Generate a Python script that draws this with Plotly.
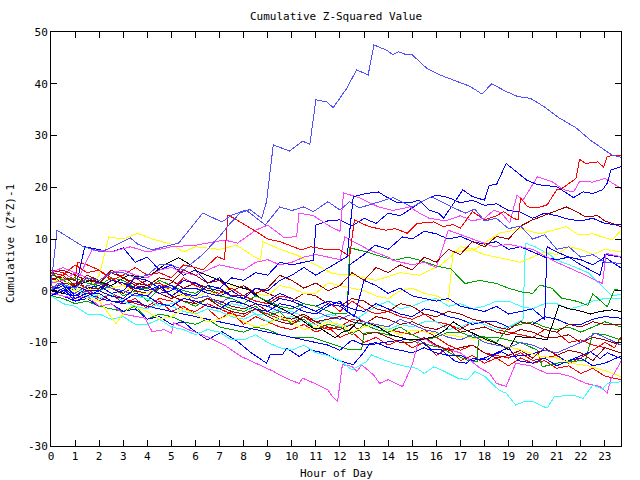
import plotly.graph_objects as go

# ---- Data: each series is a list of (hour, cumulative value) pairs ----
a_lightblue = [(0,0),(0.3,1.5),(1,0.5),(1.5,2.5),(2,2),(2.5,3.5),(3,3.5),(3.5,2.5),(4,3),(4.5,5),(5,5),(5.5,4),(6.3,7),(7,10.5),(7.4,12.8),(7.85,15),(8.26,15.7),(8.75,14.0),(8.95,17.2),(9.23,28.2),(9.9,27.0),(10.45,28.9),(10.75,28.3),(11.0,36.9),(11.45,36.5),(11.72,35.4),(12.28,39.1),(12.69,42.7),(13.17,41.7),(13.41,47.5),(13.93,46.5),(14.2,45.6),(14.42,46.2),(14.76,45.6),(15.0,45.6),(15.6,43.0),(16.15,41.7),(16.8,40.5),(17.4,39.5),(17.9,38),(18.3,40),(18.9,38.5),(19.4,37.5),(19.9,37.2),(20.5,35.5),(21.1,33.4),(21.8,31.5),(22.4,29.1),(23.0,27.2),(23.3,26.2),(23.67,25.8)]
a2_lightblue = [(0,1),(0.25,11.7),(1.35,8.5),(2.1,7.5),(3.3,10.2),(3.6,9),(4.2,7.9),(5.3,9.2),(6.3,15),(7.1,13.3),(7.5,14.6),(8.1,15.6),(8.9,12.7),(9.5,16.2),(10.0,15.5),(10.5,16.2),(10.9,15.3),(11.5,17.2),(12.0,15.6),(12.4,17.2),(12.8,16),(13.5,17),(14.2,18),(15.0,16.2),(15.8,18.2),(16.5,16.5),(17.2,15),(17.6,15.8),(18,13.5),(18.5,14),(19,12),(19.5,12.5),(20,10),(20.5,10.8),(21,8),(21.5,8.5),(22,6.5),(22.5,7),(23,5.5),(23.67,5.3)]
b_blue = [(0,0),(0.5,1.5),(1,-1),(1.5,0.5),(2,1),(2.5,-0.5),(3,0),(3.5,2.5),(4,2),(4.5,0.5),(5,1),(5.5,-0.5),(6,-1),(6.5,1),(7,0.5),(7.5,-1),(8,-1.5),(8.5,0.5),(9,0),(9.5,2),(10,3),(10.5,4.5),(11,3),(11.7,5),(12.3,6.6),(12.55,18.2),(13.1,18.8),(13.6,19.1),(13.9,18.2),(14.4,17),(14.9,17),(15.3,17.5),(15.7,15.6),(16.1,15),(16.3,14),(17.1,19.5),(17.5,18.2),(18.0,17.5),(18.2,20.4),(18.5,20.5),(18.9,24.6),(19.75,21.4),(20.2,20.5),(21,20.1),(21.7,18),(22.1,19.1),(22.5,18.8),(22.9,19.5),(23.1,20.8),(23.25,23.3),(23.67,24)]
c_red = [(0,3.5),(0.5,3),(1,5),(1.5,3.5),(2,4),(2.5,2),(3,3),(3.5,4.5),(4,3),(4.5,3.5),(5,2.5),(5.5,5),(6,4.5),(6.3,4),(6.9,6.6),(7.2,6),(7.35,14.6),(7.6,14),(8.5,11.5),(9.0,10),(9.5,9.5),(10.4,7.9),(10.8,8.5),(11.5,7.9),(12.0,7.9),(12.4,6.6),(12.6,13.7),(13.2,12.4),(13.9,11.7),(14.3,12),(14.8,11.1),(15.2,13),(15.9,13.3),(16.3,12.4),(16.7,12.8),(17.0,12.1),(17.5,15.3),(18.0,13.7),(18.5,14.5),(18.8,15.3),(19.2,14),(19.4,13.7),(19.5,17.9),(19.8,16.2),(20.2,16),(20.6,16.6),(21.0,19.5),(21.2,19.7),(21.8,21.7),(21.95,25.4),(22.2,24.6),(22.7,24.9),(22.95,23.9),(23.1,26),(23.67,26.2)]
d_magenta = [(0,3.5),(0.5,4.5),(1.2,3),(1.7,7.9),(2.5,7.5),(3.3,8.5),(4,7.5),(5,8.5),(6,8.8),(7.2,9.8),(7.75,9.2),(8.5,11.7),(9.0,12.7),(9.7,10.2),(10.2,10.5),(10.3,15),(10.9,14.5),(11.6,12.4),(12.0,11.5),(12.15,18.9),(12.8,18),(13.6,16.2),(14.2,15.5),(14.9,16.2),(15.3,15),(15.7,14),(16.4,13.5),(17.0,14.5),(17.5,13.5),(18.0,14),(18.4,15.6),(18.7,15),(19.05,13.1),(19.35,18.5),(19.6,17.5),(20.2,22),(20.8,21.1),(21.3,19.5),(21.7,19.1),(21.95,21.1),(22.5,21),(23.0,21.7),(23.67,19.8)]
e_blue = [(0,-1),(0.5,0.5),(1,-2),(1.5,-1),(2,0),(2.5,-1),(3,-1.5),(3.5,0.5),(4,1),(4.5,-0.5),(5,0),(5.5,2),(6,1.5),(6.5,0),(7,0.5),(7.5,2.5),(8,2),(8.5,3.5),(9,3),(9.5,5.5),(10,5),(10.9,5.9),(11.0,12.7),(11.5,13.5),(12.0,13.7),(12.5,12.5),(13,14),(13.5,13),(14,15),(14.5,14.5),(15,16),(15.5,17.5),(16,18.5),(16.5,18),(17,17),(17.5,17.5),(18,16.5),(18.5,16.8),(19,15.5),(19.5,15.2),(20,14),(20.5,15),(21,14.5),(21.5,13.8),(22,13.5),(22.5,14),(23,13),(23.67,12.7)]
f_darkred = [(0,2),(0.5,3),(1,1),(1.5,2.5),(2,1.5),(2.5,4),(3,2.5),(3.5,1),(4,2),(4.5,0.5),(5,1.5),(5.5,4),(6,3),(6.5,1.5),(7,2),(7.5,0),(8,1),(8.5,-0.5),(9,0.5),(9.5,3),(10,2),(10.5,0.5),(11,1.5),(11.5,0),(12,1),(12.5,3.5),(13,2),(13.5,4.5),(14,3.5),(14.5,5),(15,4),(15.5,6.5),(16,5.5),(16.5,8),(17,7),(17.5,9.5),(18,8.5),(18.5,10.5),(19,10),(19.5,12.5),(20,13.7),(20.7,15),(21.4,16.2),(21.8,15.3),(22.2,14.3),(22.7,14.5),(23,13.5),(23.67,12.4)]
g_yellow = [(0,0.5),(0.5,-0.5),(1,1),(1.5,0),(2,3),(2.4,10.4),(3,10),(3.6,11.1),(4.2,10),(5,9),(5.5,7.5),(6,8.5),(7,8),(7.7,8.8),(8.3,7),(8.7,5.9),(8.8,9.5),(9.5,8),(10.2,6.9),(11.2,4.5),(11.7,3.3),(12.5,3),(13.5,2),(14.5,3.5),(15.3,3),(16.2,5),(16.6,6.6),(17.0,8.5),(17.6,8),(18.6,11.1),(19.5,12),(20.3,11),(21.4,12.4),(21.9,10.8),(22.5,11),(23.3,9.8),(23.67,11.7)]
h_magenta = [(0,-0.5),(0.5,-1),(1,-1.5),(1.5,-1),(2,-3),(2.5,-2.5),(3,-4.5),(3.9,-5.3),(4.2,-7.9),(4.7,-7.5),(5,-8.2),(5.1,-6.2),(5.7,-7.5),(6.5,-8.9),(7.2,-10.5),(7.9,-12.7),(8.5,-14),(9.2,-15.5),(9.8,-17),(10.3,-17.9),(10.45,-16.9),(10.9,-17.8),(11.5,-19.2),(11.7,-20.5),(11.9,-21.4),(12.1,-14.3),(12.5,-14.6),(12.7,-15.6),(12.9,-14.3),(13.4,-16.3),(13.65,-17.9),(14.0,-17.2),(14.6,-18.5),(15.0,-14.3),(15.3,-9.1),(15.6,-9.5),(15.9,-10.5),(16.6,-11.4),(17.0,-12),(17.4,-13.4),(17.8,-14.9),(18.2,-15.9),(18.5,-17.9),(18.9,-18.5),(19.3,-14),(19.9,-14.5),(20.6,-16),(21.1,-16),(21.6,-16.6),(22.2,-17.9),(22.8,-18.5),(23.1,-19.8),(23.25,-17),(23.67,-13.7)]
i_cyan = [(0,-1),(0.5,-2.5),(1,-3),(1.5,-4.5),(2,-4.5),(2.5,-5.5),(3,-5),(3.5,-6.5),(4,-6.5),(4.5,-5.5),(5,-7),(5.5,-7.5),(6,-8.5),(6.5,-7.5),(7,-8),(7.5,-9.5),(8,-9.5),(8.5,-8.5),(9,-10),(9.5,-11),(10,-11.5),(10.5,-10.5),(11,-12),(11.5,-12.5),(12,-13.5),(12.5,-15.3),(13.1,-13.7),(13.3,-12.4),(13.9,-13.5),(14.2,-14),(14.7,-14.6),(15.2,-15),(15.5,-16),(15.9,-14.7),(16.3,-15.5),(16.9,-16.9),(17.3,-17.2),(17.6,-15.6),(18.0,-16.5),(18.6,-19.2),(18.9,-19.8),(19.3,-22.1),(19.6,-21.5),(20.0,-21.4),(20.6,-22.7),(20.9,-20.5),(21.3,-20.3),(21.7,-20.2),(22.1,-20.8),(22.5,-18.2),(22.9,-19),(23.1,-17.9),(23.67,-17.6)]
j_blue = [(0,-0.5),(0.5,-1),(1,-2),(1.5,-1.5),(2,-3),(2.5,-2.5),(3,-4),(3.5,-3.5),(4,-5.5),(4.5,-5),(5,-6.5),(5.5,-6),(5.9,-7.6),(6.5,-9.5),(7.1,-7.9),(7.75,-9.8),(8.26,-11.8),(8.95,-14),(9.1,-12.4),(9.6,-12.4),(9.8,-11.1),(10.3,-12.7),(10.75,-11.4),(11.3,-12),(11.9,-13.4),(12.55,-14.3),(12.95,-12.1),(13.2,-10.5),(13.8,-10),(14.6,-9.5),(15.3,-9.5),(15.8,-11.4),(16.2,-11.4),(16.8,-13.7),(17.25,-14),(17.5,-13.1),(18.1,-13.4),(18.4,-12.4),(18.7,-11.8),(19.1,-12.7),(19.7,-12.5),(20.6,-11.4),(21.1,-12.7),(21.4,-13.7),(22.4,-11.8),(22.8,-13.1),(23.1,-12),(23.67,-13.1)]
k_cyan = [(0,1),(0.5,0.5),(1,0),(1.5,-1),(2,-1.5),(2.5,-0.5),(3,-2),(3.5,-3),(4,-3.5),(4.5,-2.5),(5,-3),(5.5,-4),(6,-4.5),(6.5,-3.5),(7,-4),(7.5,-5),(8,-5.5),(8.5,-4.5),(9,-6),(9.5,-5.5),(10,-5),(10.5,-6),(11,-6.5),(11.5,-5.5),(12,-7),(12.5,-6.5),(13,-6),(13.5,-7),(14,-7.5),(14.5,-6.5),(15,-7),(15.5,-6),(16,-6),(16.5,-7.5),(17,-7),(17.5,-6),(18,-6.5),(18.5,-7.5),(19,-7),(19.6,-5.6),(19.7,9.2),(20.1,8.5),(20.7,7),(21.0,5.9),(21.7,4.7),(22.3,3.5),(22.9,0.9),(23.3,-1),(23.67,-0.7)]
l1_green = [(0,3.5),(0.5,2),(1,2.5),(1.5,1.5),(2,1),(2.5,2.5),(3,2),(3.5,0.5),(4,0.5),(4.5,2),(5,1),(5.5,0),(6,-0.5),(6.5,1),(7,-1),(7.5,-1.5),(8,-2.5),(8.5,-1),(9,-2),(9.5,-3),(10,-3.5),(10.5,-2.5),(11,-3),(11.8,-4.5),(12.3,-4.3),(12.4,8.3),(13.1,7.5),(13.5,6.9),(14.3,5.9),(14.8,6.5),(15.3,5.9),(16.1,4.7),(16.6,4.2),(17.2,1.4),(17.8,2),(18.5,1.4),(19.0,0.5),(19.5,-0.2),(20.0,-0.5),(20.3,1.1),(20.8,0.5),(21.2,-1.4),(21.8,-2),(22.3,-2.8),(22.5,-0.6),(23.1,-3.1),(23.4,0.2),(23.67,0.1)]
l2_black = [(0,0),(0.5,-0.5),(1,1),(1.7,2.1),(2.5,1),(3.2,3),(4,2.5),(4.7,5),(5.3,6.4),(5.8,5),(6.1,3.7),(7,2),(7.9,0.6),(8.2,0.2),(9.0,-2.3),(9.6,-3.5),(10.4,-5.6),(10.9,-7.3),(11.2,-7.3),(11.8,-9.1),(12.1,-8),(12.4,-7.6),(12.8,-5.6),(13.3,-6.5),(13.6,-7),(14.1,-8.5),(14.9,-9.5),(15.3,-9.5),(15.9,-8.9),(16.4,-7.5),(16.7,-6),(17.2,-7.5),(18.1,-9.5),(18.7,-10.5),(19.0,-11.4),(19.3,-8.9),(20.0,-9),(20.6,-9.5),(21.1,-2.8),(21.5,-3.5),(21.9,-3.8),(22.4,-4.5),(22.8,-4),(23.3,-3.7),(23.67,-4)]
l3_red = [(0,0.5),(0.5,1.5),(1,-1),(1.5,0),(2,-2),(2.5,-0.5),(3,-1.5),(3.5,-2.5),(4,-3),(4.5,-1.5),(5,-2),(5.5,-3.5),(6,-4),(6.5,-2.5),(7,-3.5),(7.5,-4.5),(8,-5),(8.5,-3.5),(9,-4.5),(9.5,-5.5),(10,-6),(10.5,-5),(11,-6.5),(11.5,-7.5),(12,-7),(12.5,-5.5),(13,-6),(13.5,-7),(14,-7.5),(14.5,-8),(15,-8.5),(15.5,-7.5),(16,-9),(16.5,-10.5),(17,-11.5),(17.5,-10.5),(18,-12),(18.5,-12.5),(19,-13),(19.5,-12),(20,-13.5),(20.5,-13),(21,-12.5),(21.5,-14),(22,-13),(22.5,-11.5),(23,-10),(23.4,-11),(23.67,-8.9)]
l4_red = [(0,1),(0.5,0),(1,1.5),(1.5,0.5),(2,-1.5),(2.5,-0.5),(3,-2.5),(3.5,-1.5),(4,-3.5),(4.5,-2),(5,-4),(5.5,-3),(6,-4.5),(6.5,-3.5),(7,-5.5),(7.5,-4),(8,-6.5),(8.5,-5),(9,-6),(9.5,-7),(10,-7.5),(10.5,-6.5),(11,-8),(11.5,-7),(12,-9),(12.5,-8),(13,-10),(13.5,-9),(14,-10.5),(14.5,-9.5),(15,-11),(15.5,-10),(16,-12.5),(16.5,-11),(17,-13.5),(17.5,-12.5),(18,-14),(18.5,-13),(19,-14.5),(19.5,-13),(20,-14),(20.5,-13.5),(21,-15),(21.5,-14.5),(22,-16),(22.5,-15),(23,-16.5),(23.67,-17.2)]
l5_yellow = [(0,1),(0.5,0.5),(1,0),(1.5,-1.5),(2,-2),(2.7,-6.3),(3,-4.5),(3.3,-3),(4,-4),(4.5,-5.5),(5,-5),(5.5,-3.5),(6,-4.5),(6.5,-6),(7,-5.5),(7.5,-4.5),(8,-6),(8.5,-7),(9,-6.5),(9.5,-5),(10,-6),(10.5,-7.5),(11,-7),(11.5,-6),(12,-6.5),(12.5,-8),(13,-7),(13.5,-6.5),(14,-7.5),(14.5,-8.5),(15,-7.6),(15.7,-8),(16.4,-8.5),(17.2,-9),(18,-9.5),(18.7,-10.5),(19.5,-11.4),(20.3,-12.7),(21,-13),(21.6,-14),(22.3,-14.5),(23.1,-15.6),(23.67,-16.6)]
l6_cyan = [(0,2),(0.5,1),(1,0.5),(1.5,-0.5),(2,-1),(2.5,0.5),(3,0),(3.5,-1),(4,-1.5),(4.5,-3),(5,-2.5),(5.5,-1.5),(6,-2),(6.5,-3),(7,-3.5),(7.5,-2.5),(8,-3),(8.5,-4.5),(9,-4.5),(9.5,-3.5),(10,-4),(10.5,-5),(11,-5.5),(11.5,-4.5),(12,-5),(12.5,-6),(13,-4.5),(13.5,-3),(14,-2),(14.5,-3.5),(15,-3),(15.5,-2),(16,-1.5),(16.5,-3),(17,-2.5),(17.5,-3.5),(18,-3),(18.5,-2),(19,-2),(19.5,-3),(20,-3.5),(20.5,-2.5),(21,-2.5),(21.5,-3.5),(22,-3),(22.5,-2),(23,-1.5),(23.67,-1.4)]
l7_blue = [(0,2),(0.5,1),(1,0),(1.4,8.5),(2,8),(2.5,7.5),(3,8.3),(3.5,5.5),(4,6.5),(4.5,4),(5,5),(5.5,3),(6,4),(6.5,1.5),(7,2.5),(7.5,0),(8,1),(8.5,-1),(9,-2),(9.5,-0.5),(10,-1.5),(10.5,-2.5),(11,-3),(11.5,-2),(12,-2.5),(12.5,-3.5),(13,-4),(13.5,-2.5),(14,-3.5),(14.5,-4.5),(15,-5),(15.5,-3.5),(16,-4),(16.5,-5),(17,-5.5),(17.5,-6.5),(18,-6),(18.5,-6),(19,-7),(19.5,-6),(20,-6.5),(20.5,-5),(21,-5.5),(21.5,-6.5),(22,-6.5),(22.5,-5.5),(23,-5),(23.67,-5.3)]
l8_darkred = [(0,2.5),(0.5,1.5),(1,1),(1.5,3),(2,2),(2.5,0.5),(3,-0.5),(3.5,1),(4,0.5),(4.5,-0.5),(5,-1.5),(5.5,-0.5),(6,-2.5),(6.5,-1.5),(7,-2),(7.5,-3),(8,-3.5),(8.5,-2.5),(9,-4),(9.5,-5),(10,-5.5),(10.5,-4.5),(11,-6),(11.5,-5.5),(12,-5),(12.5,-6),(13,-6.5),(13.5,-5),(14,-5.5),(14.5,-6.5),(15,-6),(15.5,-7),(16,-7.5),(16.5,-6.5),(17,-8),(17.5,-7.5),(18,-7),(18.5,-8),(19,-8.5),(19.5,-7.5),(20,-8),(20.5,-9),(21,-9),(21.5,-8.5),(22,-10),(22.5,-9),(23,-9.5),(23.67,-10.5)]
l9_darkred = [(0,3),(0.5,2.5),(1,2),(1.5,0.5),(2,0.5),(2.5,2),(3,1.5),(3.5,0),(4,-0.5),(4.5,0.5),(5,-1),(5.5,-2),(6,-2.5),(6.5,-1.5),(7,-3),(7.5,-4),(8,-4.5),(8.5,-3.5),(9,-5),(9.5,-6),(10,-6.5),(10.5,-5),(11,-6),(11.5,-7),(12,-7.5),(12.5,-6.5),(13,-8.5),(13.5,-8),(14,-9),(14.5,-10),(15,-10),(15.5,-9),(16,-10.5),(16.5,-11.5),(17,-11),(17.5,-10.5),(18,-12),(18.5,-13),(19,-12.5),(19.5,-11.5),(20,-13),(20.5,-11),(21,-12.5),(21.5,-11.5),(22,-12),(22.5,-13.5),(23,-11),(23.67,-12)]
l10_blue = [(0,-1),(0.5,0),(1,1),(1.5,0),(2,0),(2.5,2),(3,1.5),(3.5,0.5),(4,0),(4.5,1),(5,-1),(5.5,0.5),(6,0.5),(6.5,-0.5),(7,-1),(7.5,0),(8,-1.5),(8.5,-2.5),(9,-3),(9.5,-1.5),(10,-2),(10.5,-3),(11,-4),(11.5,-2.5),(12,-3),(12.6,-5),(13,2),(13.5,1),(14,-0.5),(14.5,0.5),(15,-1),(15.5,-1.5),(16,-2),(16.5,-1.5),(17,-3),(17.5,-3.5),(18,-4),(18.5,-3),(19,-4.5),(19.5,-4),(20,-3.5),(20.5,-5.5),(20.6,8.5),(21,7.5),(21.5,6.5),(22,6),(22.5,5),(23,6.5),(23.67,4.4)]
l11_yellow = [(0,1.5),(0.5,2.5),(1,0),(1.5,1),(2,-1),(2.5,0.5),(3,1),(3.5,-0.5),(4,-0.5),(4.5,1),(5,0),(5.5,-1),(6,-1.5),(6.5,0),(7,-1),(7.5,1),(8,0.5),(8.5,-0.5),(9,-1),(9.5,1),(10,0.5),(10.5,-0.5),(11,-0.5),(11.5,1.5),(12,1),(12.5,0.5),(13,0),(13.5,-1),(14,-1.5),(14.5,0),(15,0.5),(15.5,-0.5),(16,-1),(16.5,-2),(16.7,7.5),(17.5,7.9),(18,7),(18.5,6.5),(19,6),(19.5,5.5),(20,6.5),(20.5,7.5),(21,7),(21.5,8.5),(22,8),(22.5,7),(23,8),(23.67,7.5)]
l12_blue = [(0,0),(0.5,1),(1,-1.5),(1.5,-0.5),(2,-0.5),(2.5,-2),(3,-2),(3.5,-0.5),(4,-1),(4.5,-2.5),(5,-3),(5.5,-1.5),(6,-2),(6.5,-3),(7,-3.5),(7.5,-2),(8,-2.5),(8.5,-3.5),(9,-4),(9.5,-2.5),(10,-3),(10.5,-4),(11,-4.5),(11.5,-3),(12,-2),(12.3,-4),(12.4,5),(13,7),(13.45,8.8),(14,8),(14.6,10.4),(15,10),(15.5,11.5),(16,11),(16.5,10),(17,10.5),(17.5,9.5),(18,9),(18.5,9.5),(19,8),(19.5,8.5),(20,7.5),(20.5,6.5),(21,6),(21.5,6.5),(22,5),(22.8,3),(23,7),(23.67,6.5)]
l13_blue = [(0,0),(0.5,-0.5),(1,-1),(1.5,-0.5),(2,-1.5),(2.5,-2),(3,-2.5),(3.5,-2),(4,-3),(4.5,-3.5),(5,-4),(5.5,-4.5),(6,-5),(6.5,-5.5),(7,-6),(7.5,-6.5),(8,-7),(8.5,-7.5),(9,-8),(9.5,-8.5),(10,-9),(10.5,-9.5),(11,-10),(11.5,-10.5),(12,-11.5),(12.5,-9.5),(13,-10.5),(13.5,-10),(14,-11),(14.5,-11.5),(15,-12),(15.5,-11),(16,-12),(16.5,-12.5),(17,-12.5),(17.5,-13.5),(18,-13),(19,-11),(19.4,-13.5),(20,-14),(20.5,-13),(21,-14.5),(21.5,-13.5),(22,-13),(22.5,-14.5),(23,-14),(23.67,-12.6)]
m2_magenta = [(0,1.5),(0.5,2),(1,3.5),(1.5,2.5),(2,2),(2.5,3.5),(3,4),(3.5,3),(4,2.5),(4.5,4),(5,4.5),(5.5,3.5),(6,3),(6.5,4),(7,5),(7.5,4.5),(8,4),(8.5,5.5),(9,6),(9.5,5),(10,5.5),(10.5,6.5),(11,7),(11.5,6.5),(12,6),(12.2,10.4),(13.2,7.9),(14,6.5),(14.2,5.9),(15,5),(15.5,5.5),(16,4.5),(16.5,11.7),(17.5,10),(18.4,8.5),(19,9),(20,8),(21,5.5),(21.4,4.7),(22.2,3),(22.9,1.4),(23.05,7.2),(23.67,6.6)]
g2_green = [(0,-1),(0.5,-1.5),(1,-2.5),(1.5,-2),(2,-3),(2.5,-3.5),(3,-4),(3.5,-3),(4,-5.5),(4.5,-4.5),(5,-5),(5.5,-6),(6,-6.5),(6.5,-5.5),(7,-7),(7.5,-7.5),(8,-8),(8.5,-7),(9,-7.5),(9.5,-8.5),(10,-9),(10.9,-9.1),(11.5,-10),(12.4,-11.4),(12.9,-11.4),(13.0,-8.2),(13.5,-8),(14.5,-9),(15.3,-10.1),(16.2,-11),(16.6,-12.1),(17.3,-13.4),(17.7,-13.7),(17.75,-8.9),(18.5,-9),(19.6,-10.2),(20.2,-11.5),(20.4,-14.7),(21,-14),(22.2,-13.4),(22.5,-8.2),(23,-8.5),(23.67,-9.5)]
g3_green = [(0,2.5),(0.5,2),(1,1),(1.5,2.5),(2,0),(2.5,1),(3,-1),(3.5,0),(4,-2),(4.5,0.5),(5,-1),(5.5,-2),(6,-3),(6.5,-1.5),(7,-2.5),(7.5,-3.5),(8,-4),(8.5,-3),(9,-5),(9.5,-4),(10,-6.5),(10.5,-5.5),(11,-7.5),(11.5,-6.5),(12,-7),(12.5,-8.5),(13,-6.5),(13.5,-7.5),(14,-8),(14.5,-7),(15,-8.5),(15.5,-9.5),(16,-9),(16.5,-8),(17,-8),(17.5,-9),(18,-9),(18.5,-10),(19,-7),(19.5,-6.5),(20,-6),(20.5,-7),(21,-7.5),(21.5,-7),(22,-8),(22.5,-7),(23,-6),(23.67,-7)]
r3_red = [(0,4),(0.5,3.5),(1,2),(1.1,5.5),(1.5,5),(2,4),(2.5,2.5),(3,1),(3.5,2.5),(4,1),(4.5,1.5),(5,0),(5.5,2.5),(6,1),(6.5,0),(7,-0.5),(7.5,0.5),(8,-1),(8.5,-2),(9,-2.5),(9.5,-1),(10,-1.5),(10.5,-2.5),(11,-3),(11.5,-2),(12,-4),(12.5,-2),(13,-3.5),(13.5,-4.5),(14,-4),(14.5,-5),(15,-5.5),(15.5,-4.5),(16,-6),(16.5,-6.5),(17,-7.5),(17.5,-6),(18,-6.5),(18.5,-7.5),(19,-8),(19.5,-8.5),(20,-9),(20.5,-7.5),(21,-8),(21.5,-10),(22,-9.5),(22.5,-10.5),(23,-11),(23.67,-12)]
d2_darkred = [(0,3.5),(0.5,4),(1,3),(1.5,2),(2,1.5),(2.5,3.5),(3,2.5),(3.5,1.5),(4,1),(4.5,2.5),(5,2),(5.5,0.5),(6,1.5),(6.5,0.5),(7,0),(7.5,-1),(8,-1),(8.5,0.5),(9,-0.5),(9.5,-1.5),(10,-2),(10.5,-0.5),(11,-1),(11.5,-2.5),(12,-3),(12.5,-1.5),(13,-2),(13.5,-3.5),(14,-4),(14.5,-2.5),(15,-3),(15.5,-4.5),(16,-5),(16.5,-4),(17,-4.5),(17.5,-5.5),(18,-6),(18.5,-7),(19,-7.5),(19.5,-6),(20,-6.5),(20.5,-7.5),(21,-8),(21.5,-6.5),(22,-7),(22.5,-6),(23,-6.5),(23.67,-6.6)]
lb3_lightblue = [(0,1),(0.5,0),(1,-0.5),(1.5,1),(2,1.5),(2.5,0.5),(3,0),(3.5,-1),(4,-1),(4.5,1),(5,0.5),(5.5,-0.5),(6,-1.5),(6.5,-1),(7,-2.5),(7.5,-1),(8,-1.5),(8.5,-2.5),(9,-3),(9.5,-4),(10,-4.5),(10.5,-3),(11,-4),(11.5,-5),(12,-5.5),(12.5,-4.5),(13,-6),(13.5,-6.5),(14,-7),(14.5,-5.5),(15,-6.5),(15.5,-7.5),(16,-8),(16.5,-9),(17,-9.5),(17.5,-8.5),(18,-10),(18.5,-10.5),(19,-11),(19.5,-10),(20,-10.5),(20.5,-11.5),(21,-12),(21.5,-11),(22,-10),(22.6,-8.2),(23,-9),(23.67,-10.5)]

x_ticks = list(range(0, 24))
y_ticks = [-30, -20, -10, 0, 10, 20, 30, 40, 50]

RED, GREEN, BLUE, MAGENTA = "#ff0000", "#00a000", "#0000ff", "#ff40ff"
CYAN, DARKRED, YELLOW, BLACK, LIGHTBLUE = "#33ffff", "#a00000", "#ffff00", "#000000", "#5050ff"

series = [
    (l4_red, RED), (l3_red, RED), (r3_red, RED), (g2_green, GREEN), (g3_green, GREEN),
    (l13_blue, BLUE), (j_blue, BLUE), (l7_blue, BLUE), (h_magenta, MAGENTA),
    (i_cyan, CYAN), (l6_cyan, CYAN), (k_cyan, CYAN), (l8_darkred, DARKRED), (l9_darkred, DARKRED),
    (d2_darkred, DARKRED), (l5_yellow, YELLOW), (l11_yellow, YELLOW), (g_yellow, YELLOW),
    (l2_black, BLACK), (lb3_lightblue, LIGHTBLUE), (l1_green, GREEN), (l10_blue, BLUE),
    (l12_blue, BLUE), (m2_magenta, MAGENTA), (f_darkred, DARKRED), (e_blue, BLUE),
    (d_magenta, MAGENTA), (c_red, RED), (b_blue, BLUE), (a2_lightblue, LIGHTBLUE), (a_lightblue, LIGHTBLUE),
]

fig = go.Figure()
for pts, col in series:
    fig.add_trace(go.Scatter(x=[p[0] for p in pts], y=[p[1] for p in pts], mode="lines",
                             line=dict(color=col, width=1), showlegend=False, hoverinfo="skip"))

FONT = "DejaVu Sans Mono"
axis_common = dict(showgrid=False, zeroline=False, showline=True, linecolor="black", linewidth=1,
                   mirror="ticks", ticks="inside", ticklen=6, tickcolor="black", tickwidth=1,
                   tickfont=dict(family=FONT, size=11, color="black"))
fig.update_xaxes(range=[0, 23.67], tickvals=x_ticks, ticktext=[str(t) for t in x_ticks], **axis_common)
fig.update_yaxes(range=[-30, 50], tickvals=y_ticks, ticktext=[str(t) for t in y_ticks], **axis_common)

fig.update_layout(
    width=640, height=480, autosize=False,
    margin=dict(l=51, r=19, t=32, b=34, pad=0),
    paper_bgcolor="white", plot_bgcolor="white",
    font=dict(family=FONT, size=11, color="black"),
    title=dict(text="Cumulative Z-Squared Value", x=336/640, xanchor="center",
               y=1-16/480, yanchor="middle", font=dict(family=FONT, size=11, color="black")),
    annotations=[
        dict(text="Hour of Day", xref="paper", yref="paper", x=0.5, y=(446-473)/414,
             xanchor="center", yanchor="middle", showarrow=False,
             font=dict(family=FONT, size=11, color="black")),
        dict(text="Cumulative (Z*Z)-1", xref="paper", yref="paper", x=(10-51)/570, y=(446-244)/414,
             xanchor="center", yanchor="middle", textangle=-90, showarrow=False,
             font=dict(family=FONT, size=11, color="black")),
    ],
)

# crisp (non-antialiased) strokes, like the bitmap terminal of the original
post = "document.querySelectorAll('.scatterlayer path, .xaxislayer-above path, .yaxislayer-above path').forEach(function(p){p.style.shapeRendering='crispEdges';});"
fig.write_html("out.html", post_script=post)
